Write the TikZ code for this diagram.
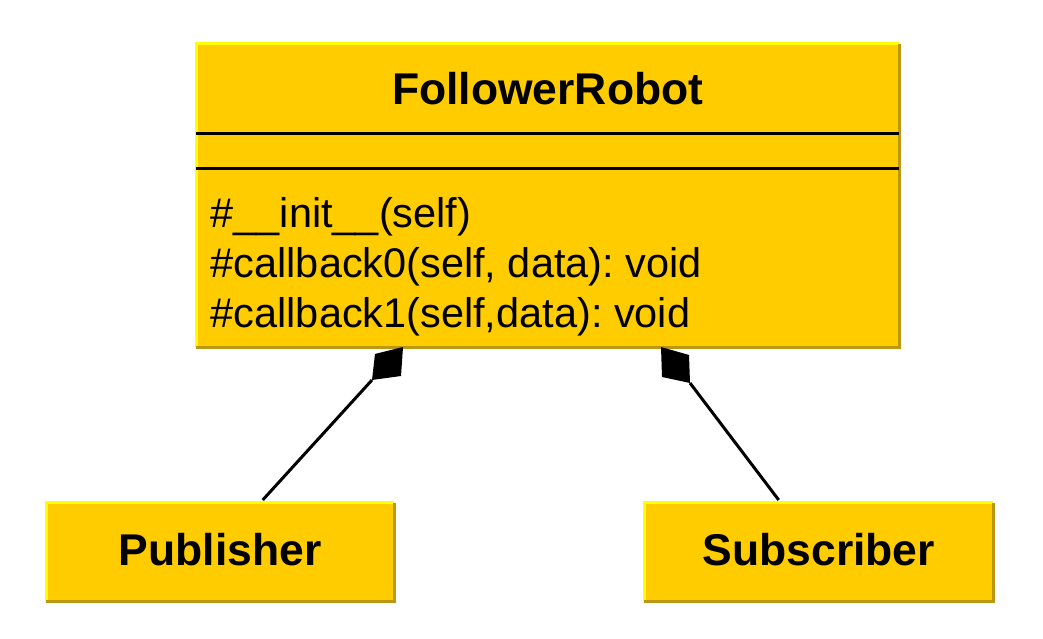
\documentclass[tikz,border=0pt]{standalone}
\usepackage{fontspec}
\setmainfont{Liberation Sans}
\usepackage{xcolor}
\usepackage{tikz}
\usetikzlibrary{positioning,calc}
\frenchspacing

\definecolor{boxfill}{RGB}{255,204,0}
\definecolor{boxlight}{RGB}{255,255,0}
\definecolor{boxdark}{RGB}{188,152,18}

\newcommand{\titlefnt}{\fontsize{12.65}{15}\selectfont\bfseries}
\newcommand{\methfnt}{\fontsize{11.8}{14.2}\selectfont}

\tikzset{
  umlbox/.style={fill=boxfill, draw=none, inner sep=0pt, anchor=north west},
  lightedge/.style={draw=boxlight, line width=0.03cm},
  darkedge/.style={draw=boxdark, line width=0.03cm},
  sepline/.style={draw=black, line width=0.03cm},
  assoc/.style={draw=black, line width=0.03cm},
}

\begin{document}
\begin{tikzpicture}
    \useasboundingbox[fill=white] (0,0) rectangle (10.43,-6.39);

    % class boxes
    \node[umlbox, minimum width=7.02cm, minimum height=3.02cm] (robot) at (1.96,-0.44) {};
    \node[umlbox, minimum width=3.47cm, minimum height=0.97cm, font=\titlefnt, text depth=0.06cm] (pub) at (0.46,-5.03) {Publisher};
    \node[umlbox, minimum width=3.48cm, minimum height=0.97cm, font=\titlefnt, text depth=0.06cm] (sub) at (6.44,-5.03) {Subscriber};

    % bevelled borders
    \foreach \b in {robot,pub,sub} {
        \draw[lightedge] (\b.south west) |- (\b.north east);
        \draw[darkedge] (\b.north east) |- (\b.south west);
    }

    % class name and compartments
    \node[font=\titlefnt, anchor=base, inner sep=0pt] (title) at ([yshift=-0.61cm]robot.north) {FollowerRobot};
    \draw[sepline] ([yshift=-0.90cm]robot.north west) -- ([yshift=-0.90cm]robot.north east);
    \draw[sepline] ([yshift=-1.25cm]robot.north west) -- ([yshift=-1.25cm]robot.north east);

    % operations
    \node[font=\methfnt, anchor=base west, inner sep=0pt] (m1) at ([xshift=0.14cm, yshift=-1.84cm]robot.north west) {\#\_\_init\_\_(self)};
    \node[font=\methfnt, anchor=base west, inner sep=0pt] (m2) at ([yshift=-0.50cm]m1.base west) {\#callback0(self, data): void};
    \node[font=\methfnt, anchor=base west, inner sep=0pt] (m3) at ([yshift=-0.50cm]m2.base west) {\#callback1(self,data): void};

    % composition links
    \coordinate (d1) at (3.72,-3.80);
    \coordinate (d2) at (6.90,-3.83);
    \fill (4.03,-3.47) -- (3.75,-3.54) -- (d1) -- (4.01,-3.76) -- cycle;
    \fill (6.61,-3.47) -- (6.89,-3.55) -- (d2) -- (6.62,-3.77) -- cycle;
    \draw[assoc] ([xshift=0.425cm, yshift=0.03cm]pub.north) -- (d1);
    \draw[assoc] ([xshift=-0.40cm, yshift=0.03cm]sub.north) -- (d2);
\end{tikzpicture}
\end{document}
